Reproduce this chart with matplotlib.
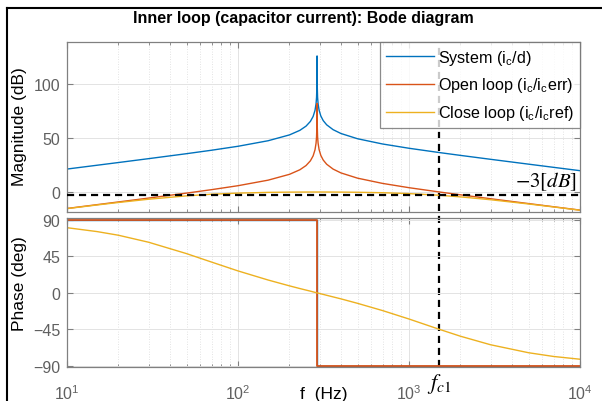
import matplotlib
matplotlib.use("Agg")
import matplotlib.pyplot as plt
import matplotlib.transforms as mtransforms
from matplotlib.lines import Line2D
from matplotlib.ticker import LogLocator, FixedLocator, NullFormatter

plt.rcParams['font.family'] = ['Liberation Sans', 'DejaVu Sans']
plt.rcParams['mathtext.fontset'] = 'stix'

# ---- data -------------------------------------------------------------
freq = [10, 15, 20, 30, 50, 70, 100, 150, 200, 230, 250, 265, 275, 282, 286,
        288, 289.5, 290, 290.5, 292, 294, 298, 305, 315, 330, 360, 400, 500,
        700, 1000, 1500, 2000, 3000, 5000, 7000, 10000]

mag_system = [21.26, 24.80, 27.31, 30.89, 35.49, 38.68, 42.35, 47.48, 52.88,
              57.10, 61.02, 65.37, 69.97, 75.54, 81.63, 87.67, 99.75, 126.0,
              99.76, 87.73, 81.75, 75.78, 70.42, 66.12, 62.23, 57.71, 54.18,
              49.33, 44.48, 40.51, 36.56, 33.91, 30.29, 25.80, 22.86, 19.76]

mag_open = [-15.24, -11.70, -9.19, -5.61, -1.01, 2.18, 5.85, 10.98, 16.38,
            20.60, 24.52, 28.87, 33.47, 39.04, 45.13, 51.17, 63.25, 82.0,
            63.26, 51.23, 45.25, 39.28, 33.92, 29.62, 25.73, 21.21, 17.68,
            12.83, 7.98, 4.01, 0.06, -2.59, -6.21, -10.70, -13.64, -16.74]

mag_closed = [-15.37, -11.98, -9.68, -6.67, -3.55, -2.05, -1.01, -0.33, -0.10,
              -0.04, -0.02, -0.01, 0.0, 0.0, 0.0, 0.0, 0.0, 0.0,
              0.0, 0.0, 0.0, 0.0, 0.0, -0.005, -0.01, -0.03, -0.08,
              -0.23, -0.64, -1.45, -2.98, -4.50, -7.14, -11.06, -13.82, -16.83]

phase_closed = [80.2, 75.4, 70.9, 62.3, 48.3, 37.9, 27.0, 15.8, 8.6,
                5.3, 3.4, 2.1, 1.2, 0.6, 0.3, 0.2, 0.0, 0.0,
                0.0, -0.2, -0.3, -0.6, -1.2, -1.9, -3.0, -5.0, -7.4,
                -12.9, -21.8, -32.2, -44.8, -53.4, -63.9, -73.7, -78.3, -81.7]

phase_open_freq = [10, 290, 290, 10000]
phase_open = [90, 90, -90, -90]
phase_system_freq = [10, 290, 290, 10000]
phase_system = [90, 90, -90, -90]

f_c1 = 1500          # closed-loop bandwidth marker (Hz)
bw_level_db = -3     # bandwidth level (dB)

x_ticks = [10, 100, 1000, 10000]
mag_ticks = [0, 50, 100]
phase_ticks = [-90, -45, 0, 45, 90]

labels = [r'System (i$_\mathregular{c}$/d)',
          r'Open loop (i$_\mathregular{c}$/i$_\mathregular{c}$err)',
          r'Close loop (i$_\mathregular{c}$/i$_\mathregular{c}$ref)']
colors = ['#0072BD', '#D95319', '#EDB120']

# ---- figure -----------------------------------------------------------
W, H = 602, 402
fig = plt.figure(figsize=(W / 100, H / 100), dpi=100)
fig.patch.set_facecolor('white')

def frac(x0, y0, x1, y1):
    return [x0 / W, 1 - y1 / H, (x1 - x0) / W, (y1 - y0) / H]

ax1 = fig.add_axes(frac(67, 43, 580, 213))
ax2 = fig.add_axes(frac(67, 218.7, 580, 367.7))

spine_c = '#808080'
tick_c = '#606060'

for ax in (ax1, ax2):
    ax.set_facecolor('none')
    ax.set_xscale('log')
    ax.set_xlim(10, 10000)
    for s in ax.spines.values():
        s.set_color(spine_c)
        s.set_linewidth(0.9)
    ax.xaxis.set_major_locator(FixedLocator(x_ticks))
    ax.xaxis.set_minor_locator(LogLocator(base=10, subs=range(2, 10)))
    ax.xaxis.set_minor_formatter(NullFormatter())
    ax.tick_params(which='both', direction='in', top=True, right=True,
                   colors=spine_c, labelcolor=tick_c, labelsize=11.5)
    ax.tick_params(which='major', length=4, width=0.8)
    ax.tick_params(which='minor', length=2, width=0.6)
    ax.tick_params(axis='y', pad=5)
    ax.grid(True, which='major', color='#e3e3e3', lw=0.7, ls='-')
    ax.grid(True, which='minor', axis='x', color='#dadada', lw=0.6, ls=(0, (1, 2)))
    ax.set_axisbelow(True)

# magnitude
ax1.plot(freq, mag_system, color=colors[0], lw=1.0, label=labels[0])
ax1.plot(freq, mag_open, color=colors[1], lw=1.0, label=labels[1])
ax1.plot(freq, mag_closed, color=colors[2], lw=1.0, label=labels[2])
ax1.axhline(bw_level_db, color='black', lw=1.6, ls=(0, (3.2, 2.2)), zorder=3)
ax1.set_ylim(-18.5, 138.9)
ax1.yaxis.set_major_locator(FixedLocator(mag_ticks))
ax1.tick_params(axis='x', labelbottom=False)
ax1.set_ylabel('Magnitude (dB)', fontsize=12.5)
ax1.yaxis.set_label_coords(-0.078, 0.506)
ax1.annotate(r'$-3[dB]$', xy=(1, bw_level_db), xycoords=('axes fraction', 'data'),
             xytext=(-2, 2), textcoords='offset points', ha='right', va='bottom',
             fontsize=15, color='black', zorder=5)

leg = ax1.legend(loc='upper right', fontsize=11.6, frameon=True, fancybox=False,
                 edgecolor='#6e6e6e', borderaxespad=0, handlelength=3.0,
                 handletextpad=0.25, borderpad=0.35, labelspacing=0.55)
leg.get_frame().set_linewidth(0.9)
leg.set_zorder(10)

# phase
ax2.plot(phase_system_freq, phase_system, color=colors[0], lw=1.0)
ax2.plot(phase_open_freq, phase_open, color=colors[1], lw=1.3)
ax2.plot(freq, phase_closed, color=colors[2], lw=1.0)
ax2.set_ylim(-90.9, 92.5)
ax2.yaxis.set_major_locator(FixedLocator(phase_ticks))
ax2.tick_params(axis='x', pad=12)
ax2.set_ylabel('Phase (deg)', fontsize=12.5)
ax2.yaxis.set_label_coords(-0.078, 0.563)
ax2.set_xlabel('f  (Hz)', fontsize=12.5, va='center')
ax2.xaxis.set_label_coords(0.5, -0.18)

# bandwidth marker spanning both axes
blend = mtransforms.blended_transform_factory(ax1.transData, fig.transFigure)
y_top = ax1.get_position().y1
y_bot = ax2.get_position().y0
fig.add_artist(Line2D([f_c1, f_c1], [y_bot, y_top], transform=blend,
                      color='black', lw=1.6, ls=(0, (3.2, 2.2)), zorder=-1))
ax2.annotate(r'$f_{c1}$', xy=(f_c1, 0), xycoords=('data', 'axes fraction'),
             xytext=(0, -12), textcoords='offset points', ha='center', va='center',
             fontsize=16, color='black')

fig.text(303 / W, 1 - 19 / H, 'Inner loop (capacitor current): Bode diagram',
         ha='center', va='center', fontsize=11.5, fontweight='bold')

# outer frame edges
fig.add_artist(Line2D([7 / W, 1], [1 - 9.3 / H, 1 - 9.3 / H],
                      transform=fig.transFigure, color='black', lw=1.5))
fig.add_artist(Line2D([7 / W, 7 / W], [0, 1 - 9.3 / H],
                      transform=fig.transFigure, color='black', lw=1.5))

fig.savefig('out.png', dpi=100, facecolor='white')
